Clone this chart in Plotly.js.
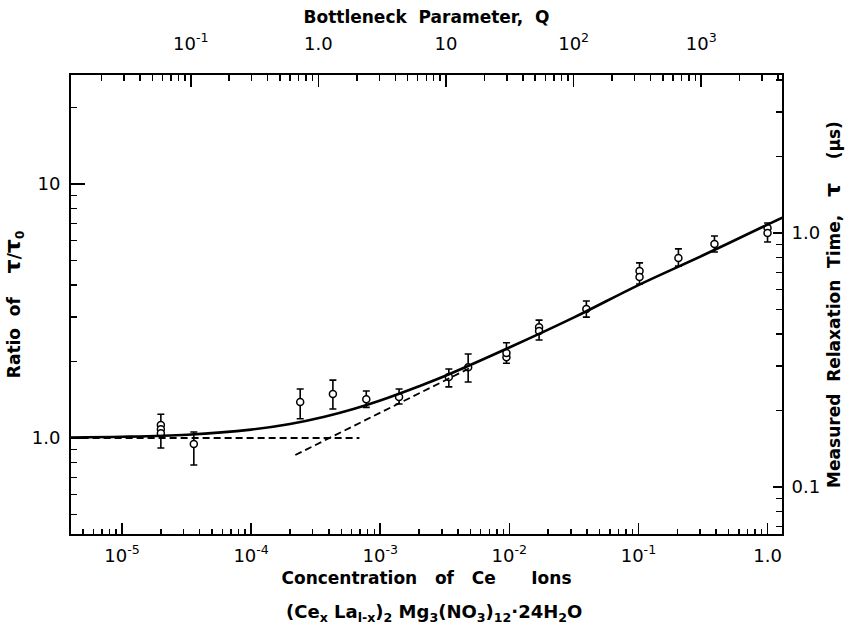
<!DOCTYPE html>
<html><head><meta charset="utf-8">
<script src="https://cdn.plot.ly/plotly-3.0.1.min.js"></script>
<style>html,body{margin:0;padding:0;background:#fff}#chart{width:847px;height:629px}</style>
</head><body><div id="chart"></div>
<script>
// ---- tick labels ----
const concTickVals = [1e-5, 1e-4, 1e-3, 1e-2, 1e-1, 1];
const concTickText = ['10<sup>-5</sup>', '10<sup>-4</sup>', '10<sup>-3</sup>', '10<sup>-2</sup>', '10<sup>-1</sup>', '1.0'];
const qTickVals = [0.1, 1, 10, 100, 1000];
const qTickText = ['10<sup>-1</sup>', '1.0', '10', '10<sup>2</sup>', '10<sup>3</sup>'];
const ratioTickVals = [1, 10];
const ratioTickText = ['1.0', '10'];
const tauTickVals = [0.1, 1];
const tauTickText = ['0.1', '1.0'];

// ---- measured points (open circles) ----
const pointConc  = [2e-5, 2e-5, 2e-5, 3.6e-5, 2.4e-4, 4.3e-4, 7.8e-4, 1.4e-3, 3.4e-3, 4.8e-3, 9.5e-3, 9.5e-3, 1.7e-2, 1.7e-2, 3.95e-2, 0.102, 0.102, 0.204, 0.388, 1.0, 1.0];
const pointRatio = [1.125, 1.082, 1.043, 0.947, 1.386, 1.49, 1.42, 1.45, 1.74, 1.90, 2.08, 2.16, 2.73, 2.64, 3.22, 4.54, 4.30, 5.11, 5.80, 6.71, 6.41];

// ---- error bars ----
const barConc = [2e-5, 3.6e-5, 2.4e-4, 4.3e-4, 7.8e-4, 1.4e-3, 3.4e-3, 4.8e-3, 9.5e-3, 1.7e-2, 3.95e-2, 0.102, 0.204, 0.388, 1.0];
const barHigh = [1.24, 1.056, 1.56, 1.69, 1.53, 1.56, 1.87, 2.14, 2.37, 2.91, 3.46, 4.89, 5.55, 6.24, 7.02];
const barLow  = [0.913, 0.783, 1.19, 1.30, 1.32, 1.36, 1.59, 1.66, 1.97, 2.43, 2.99, 4.04, 4.75, 5.40, 5.91];

// ---- theoretical curve (solid) ----
const curveConc  = [4.0e-6, 1e-5, 3.2e-5, 1e-4, 2.0e-4, 3.7e-4, 6.3e-4, 1e-3, 2.0e-3, 3.2e-3, 1e-2, 3.2e-2, 0.1, 0.32, 1.0, 1.3];
const curveRatio = [1.005, 1.011, 1.030, 1.079, 1.135, 1.212, 1.303, 1.404, 1.598, 1.757, 2.27, 2.99, 4.0, 5.25, 6.92, 7.37];

// ---- asymptotes (dashed) ----
const flatConc  = [4.0e-6, 6.9e-4];
const flatRatio = [1.0, 1.0];
const slopeConc  = [2.2e-4, 5.0e-3];
const slopeRatio = [0.857, 1.89];

function minorTicks(lo, hi) {
  const out = [];
  for (let d = lo; d <= hi; d++) for (let k = 2; k <= 9; k++) out.push(k * Math.pow(10, d));
  return out;
}

const FONT = 'DejaVu Sans, Arial, sans-serif';
const NB = '\u00A0';
const sp = n => NB.repeat(n);
const black = '#000';

const errCenter = barConc.map((c, i) => Math.sqrt(barHigh[i] * barLow[i]));

const traces = [
  { type: 'scatter', mode: 'markers', x: barConc, y: errCenter,
    marker: { size: 1, opacity: 0 },
    error_y: { type: 'data', symmetric: false,
      array: barHigh.map((h, i) => h - errCenter[i]),
      arrayminus: barLow.map((l, i) => errCenter[i] - l),
      color: black, thickness: 1.6, width: 3.5 },
    hoverinfo: 'skip', showlegend: false },
  { type: 'scatter', mode: 'markers', x: pointConc, y: pointRatio,
    marker: { symbol: 'circle', size: 7, color: '#fff', line: { color: black, width: 1.5 } },
    showlegend: false },
  { type: 'scatter', mode: 'lines', x: flatConc, y: flatRatio,
    line: { color: black, width: 1.8, dash: '7px,4px' }, showlegend: false },
  { type: 'scatter', mode: 'lines', x: slopeConc, y: slopeRatio,
    line: { color: black, width: 1.8, dash: '7px,4px' }, showlegend: false },
  { type: 'scatter', mode: 'lines', x: curveConc, y: curveRatio,
    line: { color: black, width: 2.6, shape: 'spline' }, showlegend: false },
  { type: 'scatter', x: [], y: [], xaxis: 'x2', yaxis: 'y2', showlegend: false }
];

const tickFont = { family: FONT, size: 18, color: black };
const titleFont = { family: FONT, size: 17, color: black, weight: 'bold' };

function axisBase(extra) {
  return Object.assign({
    type: 'log', tickmode: 'array', ticks: 'inside', tickwidth: 1.6, tickcolor: black,
    showline: true, linewidth: 2, linecolor: black, showgrid: false, zeroline: false,
    tickfont: tickFont, automargin: false, fixedrange: true
  }, extra);
}

const layout = {
  width: 847, height: 629,
  margin: { l: 71, r: 65, t: 75, b: 95 },
  paper_bgcolor: '#fff', plot_bgcolor: '#fff',
  showlegend: false,
  xaxis: axisBase({
    range: [-5.395, 0.112], tickvals: concTickVals, ticktext: concTickText, ticklen: 11,
    ticklabelstandoff: 4,
    minor: { tickmode: 'array', tickvals: minorTicks(-6, 0), ticks: 'inside', ticklen: 5, tickwidth: 1.5, tickcolor: black, showgrid: false },
    title: { text: 'Concentration' + sp(3) + 'of' + sp(3) + 'Ce' + sp(6) + 'Ions', font: titleFont, standoff: 8 }
  }),
  xaxis2: axisBase({
    overlaying: 'x', side: 'top', anchor: 'y2',
    range: [-1.939, 3.633], tickvals: qTickVals, ticktext: qTickText, ticklen: 12,
    ticklabelstandoff: 16,
    minor: { tickmode: 'array', tickvals: minorTicks(-3, 4), ticks: 'inside', ticklen: 6, tickwidth: 1.5, tickcolor: black, showgrid: false },
    title: { text: 'Bottleneck' + sp(2) + 'Parameter,' + sp(2) + 'Q', font: titleFont, standoff: 2 }
  }),
  yaxis: axisBase({
    range: [-0.378, 1.429], tickvals: ratioTickVals, ticktext: ratioTickText, ticklen: 14,
    ticklabelstandoff: 5,
    minor: { tickmode: 'array', tickvals: minorTicks(-1, 1), ticks: 'inside', ticklen: 6, tickwidth: 1.5, tickcolor: black, showgrid: false },
    title: { text: 'Ratio' + sp(2) + 'of' + sp(4) + '<span style="font-size:22px">τ</span>/<span style="font-size:22px">τ</span><sub>0</sub>', font: titleFont, standoff: 10 }
  }),
  yaxis2: axisBase({
    overlaying: 'y', side: 'right', anchor: 'x2',
    range: [-1.185, 0.622], tickvals: tauTickVals, ticktext: tauTickText, ticklen: 9,
    ticklabelstandoff: 4,
    minor: { tickmode: 'array', tickvals: minorTicks(-2, 0), ticks: 'inside', ticklen: 6, tickwidth: 1.5, tickcolor: black, showgrid: false },
    title: { text: 'Measured' + sp(2) + 'Relaxation' + sp(2) + 'Time,' + sp(3) + '<span style="font-size:22px">τ</span>' + sp(4) + '(μs)', font: titleFont, standoff: 3 }
  }),
  annotations: [
    { xref: 'paper', yref: 'paper', x: 0.51, y: -0.172, xanchor: 'center', yanchor: 'middle', showarrow: false,
      text: '(Ce<sub>x</sub>' + NB + 'La<sub>l-x</sub>)<sub>2</sub>' + NB + 'Mg<sub>3</sub>(NO<sub>3</sub>)<sub>12</sub>·24H<sub>2</sub>O',
      font: { family: FONT, size: 18, color: black, weight: 'bold' } }
  ]
};

Plotly.newPlot('chart', traces, layout, { staticPlot: true, displayModeBar: false });
</script>
</body></html>
